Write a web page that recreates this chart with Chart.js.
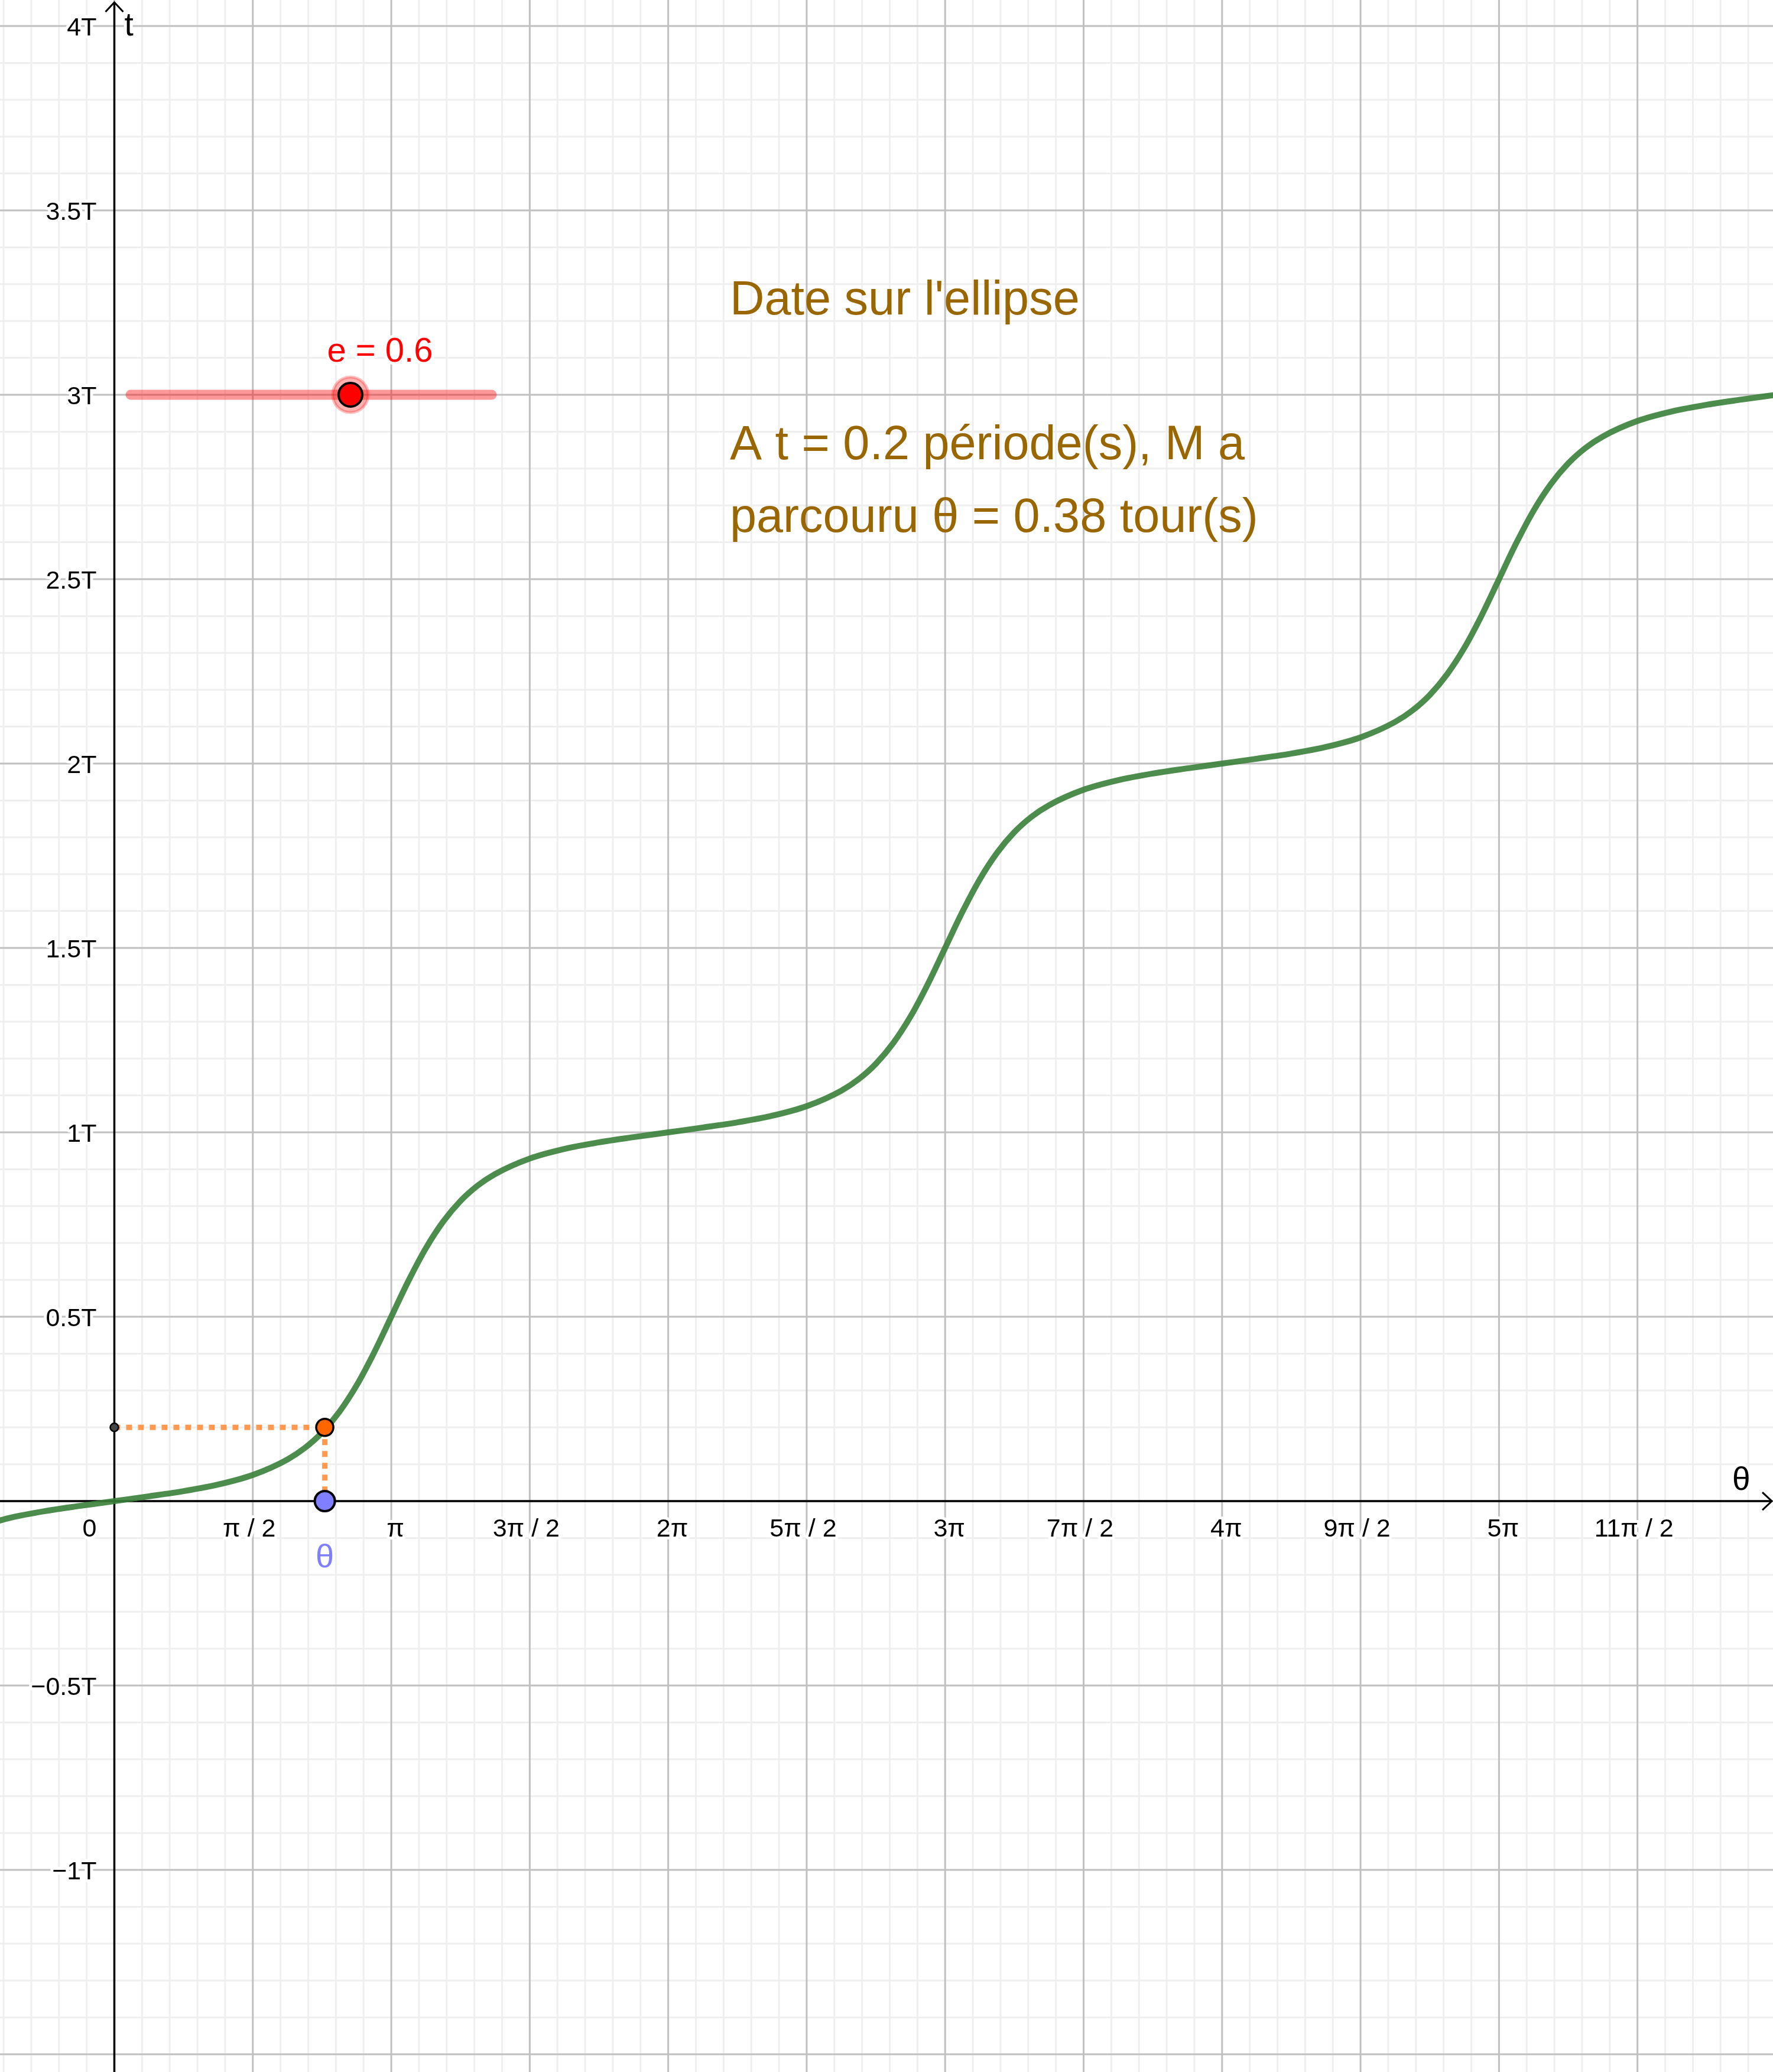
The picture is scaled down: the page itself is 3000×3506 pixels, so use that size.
<!DOCTYPE html>
<html>
<head>
<meta charset="utf-8">
<script src="https://cdn.jsdelivr.net/npm/chart.js@4.4.0/dist/chart.umd.min.js"></script>
<style>
  html, body { margin: 0; padding: 0; background: #ffffff; }
  canvas { display: block; }
</style>
</head>
<body>
<canvas id="graph" width="3000" height="3506"></canvas>
<script>
// --- Daten (θ in Vielfachen von π, t in Perioden T) ---
const thetaPi = [-0.5, -0.375, -0.25, -0.125,
    0, 0.125, 0.25, 0.375, 0.5, 0.625, 0.6875, 0.75, 0.8125, 0.875, 0.9375, 1,
    1.0625, 1.125, 1.1875, 1.25, 1.3125, 1.375, 1.5, 1.625, 1.75, 1.875, 2,
    2.125, 2.25, 2.375, 2.5, 2.625, 2.6875, 2.75, 2.8125, 2.875, 2.9375, 3,
    3.0625, 3.125, 3.1875, 3.25, 3.3125, 3.375, 3.5, 3.625, 3.75, 3.875, 4,
    4.125, 4.25, 4.375, 4.5, 4.625, 4.6875, 4.75, 4.8125, 4.875, 4.9375, 5,
    5.0625, 5.125, 5.1875, 5.25, 5.3125, 5.375, 5.5, 5.625, 5.75, 5.875, 6];
const tPeriode = [-0.071, -0.045, -0.027, -0.013,
    0, 0.013, 0.027, 0.045, 0.071, 0.113, 0.144, 0.186, 0.242, 0.314, 0.402, 0.5,
    0.598, 0.686, 0.758, 0.814, 0.856, 0.887, 0.929, 0.955, 0.973, 0.987, 1,
    1.013, 1.027, 1.045, 1.071, 1.113, 1.144, 1.186, 1.242, 1.314, 1.402, 1.5,
    1.598, 1.686, 1.758, 1.814, 1.856, 1.887, 1.929, 1.955, 1.973, 1.987, 2,
    2.013, 2.027, 2.045, 2.071, 2.113, 2.144, 2.186, 2.242, 2.314, 2.402, 2.5,
    2.598, 2.686, 2.758, 2.814, 2.856, 2.887, 2.929, 2.955, 2.973, 2.987, 3];

const xTickWerte = [0, 0.5, 1, 1.5, 2, 2.5, 3, 3.5, 4, 4.5, 5, 5.5];
const xTickLabels = ["0", "π / 2", "π", "3π / 2", "2π", "5π / 2", "3π", "7π / 2", "4π", "9π / 2", "5π", "11π / 2"];
const yTickWerte = [-1, -0.5, 0.5, 1, 1.5, 2, 2.5, 3, 3.5, 4];
const yTickLabels = ["−1T", "−0.5T", "0.5T", "1T", "1.5T", "2T", "2.5T", "3T", "3.5T", "4T"];

// Punkt M: θ = 0.38 Umdrehungen, t = 0.2 T
const thetaM = 0.76;
const tM = 0.2;

// Schieberegler e
const eWert = 0.6;
const reglerX = [0.0587, 1.3626];
const reglerY = 3;
const reglerPos = 0.8525;

// Sichtbarer Bereich
const xMin = -0.4129, xMax = 5.9894;
const yMin = -1.548, yMax = 4.0705;

const schrift = '"Liberation Sans", Arial, sans-serif';
const braun = "#996600";

// --- Gitter und Achsen ---
const gitterPlugin = {
    id: "gitter",
    beforeDatasetsDraw(chart) {
        const { ctx, scales: { x, y } } = chart;
        const w = chart.width, h = chart.height;
        ctx.save();
        ctx.lineWidth = 3;

        // feines Gitter
        ctx.strokeStyle = "#efefef";
        for (let i = Math.ceil(xMin * 10); i <= Math.floor(xMax * 10); i++) {
            if (i % 5 === 0) continue;
            const px = x.getPixelForValue(i / 10);
            ctx.beginPath(); ctx.moveTo(px, 0); ctx.lineTo(px, h); ctx.stroke();
        }
        for (let i = Math.ceil(yMin * 10); i <= Math.floor(yMax * 10); i++) {
            if (i % 5 === 0) continue;
            const py = y.getPixelForValue(i / 10);
            ctx.beginPath(); ctx.moveTo(0, py); ctx.lineTo(w, py); ctx.stroke();
        }

        // Hauptgitter
        ctx.strokeStyle = "#c0c0c0";
        for (let i = Math.ceil(xMin * 2); i <= Math.floor(xMax * 2); i++) {
            const px = x.getPixelForValue(i / 2);
            ctx.beginPath(); ctx.moveTo(px, 0); ctx.lineTo(px, h); ctx.stroke();
        }
        for (let i = Math.ceil(yMin * 2); i <= Math.floor(yMax * 2); i++) {
            const py = y.getPixelForValue(i / 2);
            ctx.beginPath(); ctx.moveTo(0, py); ctx.lineTo(w, py); ctx.stroke();
        }

        // Achsen
        const x0 = x.getPixelForValue(0);
        const y0 = y.getPixelForValue(0);
        ctx.strokeStyle = "#000000";
        ctx.lineWidth = 3.5;
        ctx.beginPath();
        ctx.moveTo(0, y0); ctx.lineTo(w - 2, y0);
        ctx.moveTo(x0, h); ctx.lineTo(x0, 4);
        ctx.stroke();
        ctx.lineWidth = 3;
        ctx.beginPath();
        ctx.moveTo(w - 18, y0 - 15); ctx.lineTo(w - 2, y0); ctx.lineTo(w - 18, y0 + 15);
        ctx.moveTo(x0 - 15, 20); ctx.lineTo(x0, 4); ctx.lineTo(x0 + 15, 20);
        ctx.stroke();

        // Beschriftung der Achsen
        ctx.font = "43px " + schrift;
        ctx.lineJoin = "round";
        ctx.lineWidth = 10;
        ctx.strokeStyle = "#ffffff";
        ctx.fillStyle = "#000000";
        ctx.textBaseline = "alphabetic";
        xTickWerte.forEach((v, i) => {
            let px = x.getPixelForValue(v);
            if (v === 0) {
                ctx.textAlign = "right";
                px = x0 - 30;
            } else {
                ctx.textAlign = "center";
                // GeoGebra setzt Brüche etwas nach links, ganze Vielfache etwas nach rechts
                px += xTickLabels[i].includes("/") ? -6 : 7;
            }
            ctx.strokeText(xTickLabels[i], px, y0 + 60);
            ctx.fillText(xTickLabels[i], px, y0 + 60);
        });
        ctx.textAlign = "right";
        yTickWerte.forEach((v, i) => {
            const py = y.getPixelForValue(v) + 16;
            ctx.strokeText(yTickLabels[i], x0 - 30, py);
            ctx.fillText(yTickLabels[i], x0 - 30, py);
        });

        ctx.font = "55px " + schrift;
        ctx.textAlign = "left";
        ctx.strokeText("t", x0 + 17, 60);
        ctx.fillText("t", x0 + 17, 60);
        ctx.strokeText("θ", w - 69, y0 - 19);
        ctx.fillText("θ", w - 69, y0 - 19);
        ctx.restore();
    }
};

// --- Texte ---
const textPlugin = {
    id: "texte",
    afterDatasetsDraw(chart) {
        const { ctx, scales: { x, y } } = chart;
        ctx.save();
        ctx.lineJoin = "round";

        // Schieberegler-Beschriftung
        ctx.font = "58px " + schrift;
        ctx.textAlign = "center";
        ctx.textBaseline = "alphabetic";
        ctx.lineWidth = 10;
        ctx.strokeStyle = "#ffffff";
        ctx.fillStyle = "#ff0000";
        const lx = x.getPixelForValue(reglerPos) + 50;
        const ly = y.getPixelForValue(reglerY) - 56;
        ctx.strokeText("e = " + eWert, lx, ly);
        ctx.fillText("e = " + eWert, lx, ly);

        // θ unter dem blauen Punkt
        ctx.font = "56px " + schrift;
        ctx.fillStyle = "#7f7fff";
        const bx = x.getPixelForValue(thetaM);
        const by = y.getPixelForValue(0) + 112;
        ctx.strokeText("θ", bx, by);
        ctx.fillText("θ", bx, by);

        // Erklärungstext
        ctx.font = "81px " + schrift;
        ctx.textAlign = "left";
        ctx.fillStyle = braun;
        ctx.fillText("Date sur l'ellipse", 1235, 532);
        ctx.fillText("A t = " + tM + " période(s), M a", 1235, 777);
        ctx.fillText("parcouru θ = " + (thetaM / 2).toFixed(2) + " tour(s)", 1235, 900);
        ctx.restore();
    }
};

// --- Datensätze ---
const kurve = thetaPi.map((v, i) => ({ x: v, y: tPeriode[i] }));

const datasets = [
    {   // Kurve t(θ)
        data: kurve,
        showLine: true,
        borderColor: "rgba(56, 128, 56, 0.9)",
        borderWidth: 10,
        pointRadius: 0,
        cubicInterpolationMode: "monotone",
        order: 5
    },
    {   // waagerechte Hilfslinie
        data: [{ x: 0, y: tM }, { x: thetaM, y: tM }],
        showLine: true,
        borderColor: "#ff9950",
        borderWidth: 9,
        borderDash: [10, 10],
        borderCapStyle: "butt",
        pointRadius: 0,
        order: 6
    },
    {   // senkrechte Hilfslinie
        data: [{ x: thetaM, y: tM }, { x: thetaM, y: 0 }],
        showLine: true,
        borderColor: "#ff9950",
        borderWidth: 9,
        borderDash: [10, 10],
        borderCapStyle: "butt",
        pointRadius: 0,
        order: 6
    },
    {   // Schieberegler
        data: [{ x: reglerX[0], y: reglerY }, { x: reglerX[1], y: reglerY }],
        showLine: true,
        borderColor: "rgba(255, 0, 0, 0.4)",
        borderWidth: 17,
        borderCapStyle: "round",
        pointRadius: 0,
        order: 7
    },
    {   // Schein um den Regler
        data: [{ x: reglerPos, y: reglerY }],
        pointRadius: 30,
        pointBackgroundColor: "rgba(255, 0, 0, 0.3)",
        pointBorderColor: "rgba(255, 0, 0, 0.25)",
        pointBorderWidth: 5,
        order: 2
    },
    {   // Regler
        data: [{ x: reglerPos, y: reglerY }],
        pointRadius: 20,
        pointBackgroundColor: "#ff0000",
        pointBorderColor: "#000000",
        pointBorderWidth: 4,
        order: 1
    },
    {   // Punkt auf der t-Achse
        data: [{ x: 0, y: tM }],
        pointRadius: 7,
        pointBackgroundColor: "#444444",
        pointBorderColor: "#000000",
        pointBorderWidth: 2.5,
        order: 1
    },
    {   // Punkt M auf der Kurve
        data: [{ x: thetaM, y: tM }],
        pointRadius: 14.5,
        pointBackgroundColor: "#ff6600",
        pointBorderColor: "#000000",
        pointBorderWidth: 3.5,
        order: 1
    },
    {   // θ auf der Achse
        data: [{ x: thetaM, y: 0 }],
        pointRadius: 17,
        pointBackgroundColor: "#7f7fff",
        pointBorderColor: "#000000",
        pointBorderWidth: 4,
        order: 1
    }
];

new Chart(document.getElementById("graph"), {
    type: "scatter",
    data: { datasets },
    options: {
        responsive: false,
        animation: false,
        events: [],
        layout: { padding: 0, autoPadding: false },
        plugins: {
            legend: { display: false },
            tooltip: { enabled: false }
        },
        scales: {
            x: { type: "linear", display: false, min: xMin, max: xMax },
            y: { type: "linear", display: false, min: yMin, max: yMax }
        }
    },
    plugins: [gitterPlugin, textPlugin]
});
</script>
</body>
</html>
